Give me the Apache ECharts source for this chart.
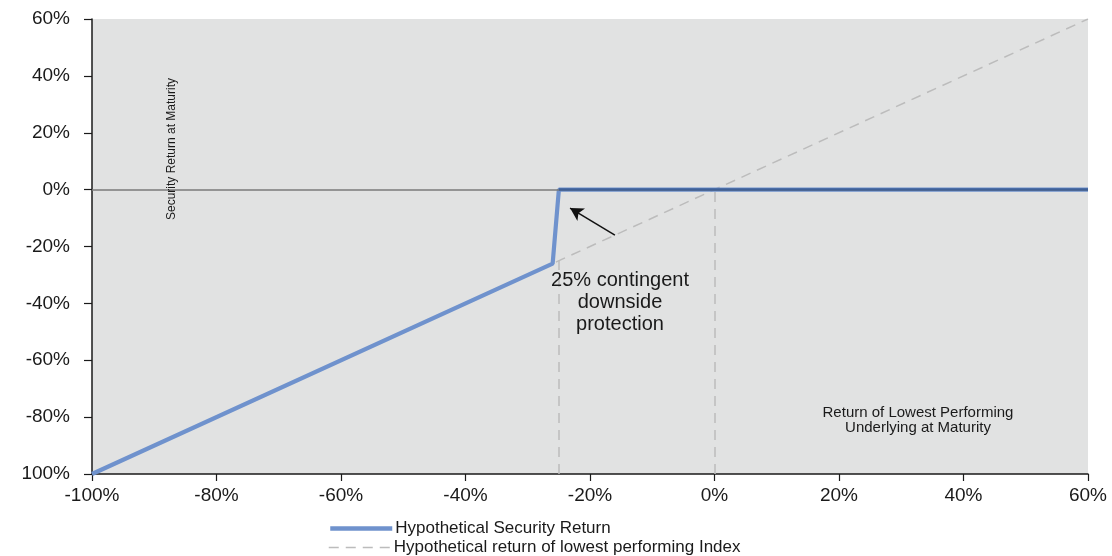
<!DOCTYPE html>
<html>
<head>
<meta charset="utf-8">
<script src="https://cdn.jsdelivr.net/npm/echarts@6/dist/echarts.min.js"></script>
<style>
html,body{margin:0;padding:0;background:#fff;}
#chart{width:1112px;height:556px;}
</style>
</head>
<body>
<div id="chart"></div>
<script>
// ---- data ----
const seriesNames = ['Hypothetical Security Return', 'Hypothetical return of lowest performing Index'];
const securityX = [-100, -26, -25, 60];
const securityY = [-100, -26, 0, 0];
const indexX = [-100, 60];
const indexY = [-100, 60];
const xTickValues = [-100, -80, -60, -40, -20, 0, 20, 40, 60];
const xTickLabels = ['-100%', '-80%', '-60%', '-40%', '-20%', '0%', '20%', '40%', '60%'];
const yTickValues = [-100, -80, -60, -40, -20, 0, 20, 40, 60];
const yTickLabels = ['100%', '-80%', '-60%', '-40%', '-20%', '0%', '20%', '40%', '60%'];
const barrier = -25;
const arrowFrom = [-16, -16];
const arrowTo = [-23.2, -6.5];
const annotationText = '25% contingent\ndownside\nprotection';
const yAxisTitle = 'Security Return at Maturity';
const xAxisTitle = 'Return of Lowest Performing\nUnderlying at Maturity';

const securityData = securityX.map((x, i) => [x, securityY[i]]);
const indexData = indexX.map((x, i) => [x, indexY[i]]);

const font = 'Liberation Sans, Arial, sans-serif';
const chart = echarts.init(document.getElementById('chart'));

const legendBase = {
  orient: 'vertical', left: 323, itemWidth: 62, itemHeight: 12, itemGap: 2,
  itemStyle: { opacity: 0, borderWidth: 0 },
  textStyle: { fontFamily: font, fontSize: 17, color: '#1a1a1a', padding: [0, 0, 0, -2] }
};

const option = {
  backgroundColor: '#ffffff',
  animation: false,
  grid: { left: 92, right: 24, top: 19, bottom: 82, show: true, backgroundColor: '#e1e2e2', borderWidth: 0 },
  xAxis: {
    type: 'value', min: -100, max: 60, interval: 20,
    axisLine: { show: true, onZero: false, lineStyle: { color: '#1a1a1a', width: 1.5 } },
    axisTick: { show: true, length: 7, lineStyle: { color: '#1a1a1a', width: 1.2 } },
    splitLine: { show: false },
    axisLabel: {
      margin: 12, color: '#1a1a1a', fontFamily: font, fontSize: 19,
      formatter: v => xTickLabels[xTickValues.indexOf(v)]
    }
  },
  yAxis: {
    type: 'value', min: -100, max: 60, interval: 20,
    axisLine: { show: true, onZero: false, lineStyle: { color: '#1a1a1a', width: 1.5 } },
    axisTick: { show: true, length: 8, lineStyle: { color: '#1a1a1a', width: 1.2 } },
    splitLine: { show: false },
    axisLabel: {
      margin: 22, color: '#1a1a1a', fontFamily: font, fontSize: 19,
      formatter: v => yTickLabels[yTickValues.indexOf(v)]
    }
  },
  legend: [
    Object.assign({}, legendBase, { top: 515, data: [seriesNames[0]], lineStyle: { width: 4.5 } }),
    Object.assign({}, legendBase, { top: 534, data: [seriesNames[1]], lineStyle: { width: 1.5 } })
  ],
  series: [
    {
      name: 'zero', type: 'line', data: [], silent: true, z: 1,
      markLine: {
        silent: true, symbol: ['none', 'none'], label: { show: false },
        lineStyle: { color: '#7a7a7a', width: 1.5, type: 'solid' },
        data: [[{ coord: [-100, 0] }, { coord: [60, 0] }]]
      }
    },
    {
      name: seriesNames[1], type: 'line', data: indexData, symbol: 'none', z: 2,
      lineStyle: { color: '#bcbcbc', width: 1.5, type: [10, 7] },
      itemStyle: { color: '#c8c8c8' },
      markLine: {
        silent: true, symbol: ['none', 'none'], label: { show: false },
        lineStyle: { color: '#bcbcbc', width: 1.5, type: [10, 7] },
        data: [
          [{ coord: [barrier, -100] }, { coord: [barrier, barrier] }],
          [{ coord: [0, -100] }, { coord: [0, 0] }]
        ]
      }
    },
    {
      name: seriesNames[0], type: 'line', data: securityData, symbol: 'none', z: 3,
      lineStyle: { color: '#6f92cd', width: 4.2 },
      itemStyle: { color: '#6f92cd' },
      markLine: {
        silent: true, symbol: ['none', 'none'], label: { show: false },
        lineStyle: { color: '#3f6198', width: 2.5, type: 'solid' },
        data: [[{ coord: [barrier, 0] }, { coord: [60, 0] }]]
      }
    },
    {
      name: 'arrow', type: 'line', data: [], silent: true, z: 4,
      markLine: {
        silent: true, symbol: ['none', 'arrow'], symbolSize: [11, 13], label: { show: false },
        lineStyle: { color: '#111', width: 1.5, type: 'solid' },
        data: [[{ coord: arrowFrom }, { coord: arrowTo }]]
      }
    }
  ],
  graphic: [
    {
      type: 'text', x: 620, y: 269, z: 10,
      style: { text: annotationText, fontFamily: font, fontSize: 20, lineHeight: 22, fill: '#1a1a1a', align: 'center', verticalAlign: 'top' }
    },
    {
      type: 'text', x: 172, y: 149, rotation: Math.PI / 2, z: 10,
      style: { text: yAxisTitle, fontFamily: font, fontSize: 12, fill: '#1a1a1a', align: 'center', verticalAlign: 'middle' }
    },
    {
      type: 'text', x: 918, y: 405, z: 10,
      style: { text: xAxisTitle, fontFamily: font, fontSize: 15, lineHeight: 15, fill: '#1a1a1a', align: 'center', verticalAlign: 'top' }
    }
  ]
};
chart.setOption(option);
</script>
</body>
</html>
